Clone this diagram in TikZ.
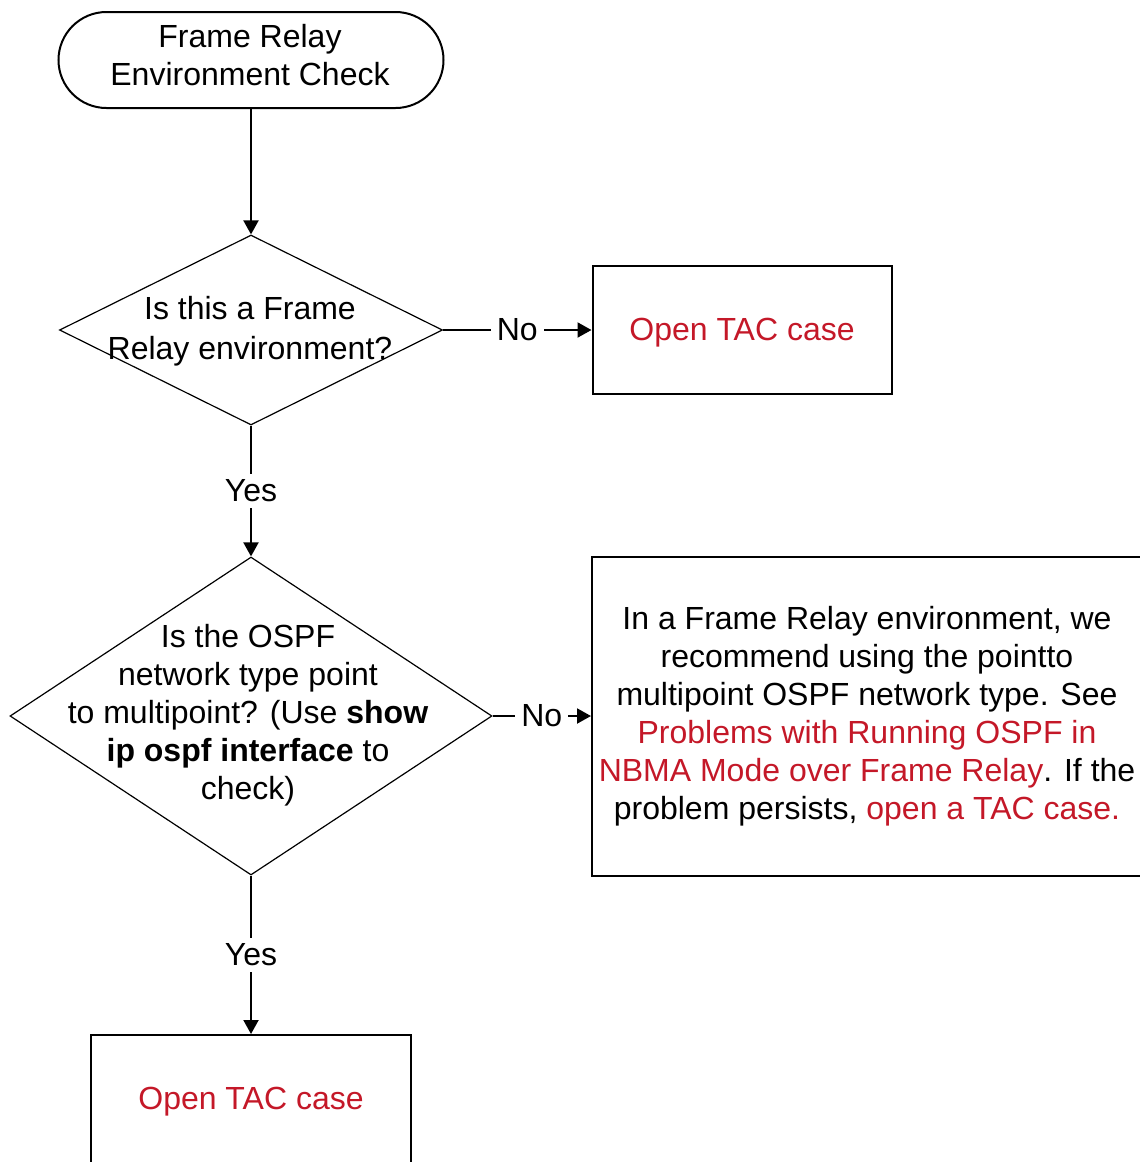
\documentclass[tikz,border=0pt]{standalone}
\usepackage{fontspec}
\setmainfont{Liberation Sans}
\usetikzlibrary{shapes.geometric,arrows.meta}
\definecolor{tacred}{RGB}{196,24,40}
\begin{document}
\begin{tikzpicture}[x=0.5pt,y=-0.5pt,
  every node/.style={font=\fontsize{16}{19}\selectfont, inner sep=0pt},
  terminal/.style={draw, line width=1pt, rounded corners=24pt, minimum width=192.5pt, minimum height=48pt},
  decision/.style={draw, diamond, line width=0.6pt},
  procbox/.style={draw, line width=1pt, rectangle, align=center},
  flow/.style={line width=1pt, -{Triangle[length=7pt,width=7.5pt]}},
  answer/.style={fill=white, inner sep=3pt}]
\useasboundingbox (0,0) rectangle (1140,1162);
\node[terminal] (start) at (251,60) {};
\node[align=center] (starttext) at (250,55) {Frame Relay\\Environment Check};
\node[decision, minimum width=191.5pt, minimum height=95pt] (isfr) at (251,330) {};
\node[align=center, font=\fontsize{16}{20}\selectfont] (isfrtext) at (250,331) {Is this a Frame\\Relay environment?};
\node[procbox, minimum width=149.5pt, minimum height=64pt, text depth=1pt] (tac1) at (742,330) {\textcolor{tacred}{Open TAC case}};
\node[decision, minimum width=241pt, minimum height=159pt] (ospf) at (251,716) {};
\node[align=center] (ospftext) at (248,715) {Is the OSPF\\network  type point\\to multipoint? (Use \textbf{show}\\\textbf{ip ospf interface} to\\check)};
\node[procbox, minimum width=275pt, minimum height=159.5pt] (advice) at (867,716) {In a Frame Relay environment, we\\recommend using the pointto\\multipoint OSPF network type.  See\\\textcolor{tacred}{Problems with Running OSPF in}\\\textcolor{tacred}{NBMA Mode over Frame Relay}. If the\\problem persists, \textcolor{tacred}{open a TAC case.}};
\node[procbox, minimum width=160pt, minimum height=64pt, text depth=1pt] (tac2) at (251,1099) {\textcolor{tacred}{Open TAC case}};
\draw[flow] (start) -- (isfr);
\draw[flow] (isfr) -- node[answer] {No} (tac1);
\draw[flow] (isfr) -- node[answer] {Yes} (ospf);
\draw[flow] (ospf) -- node[answer] {No} (advice);
\draw[flow] (ospf) -- node[answer] {Yes} (tac2);
\end{tikzpicture}
\end{document}
